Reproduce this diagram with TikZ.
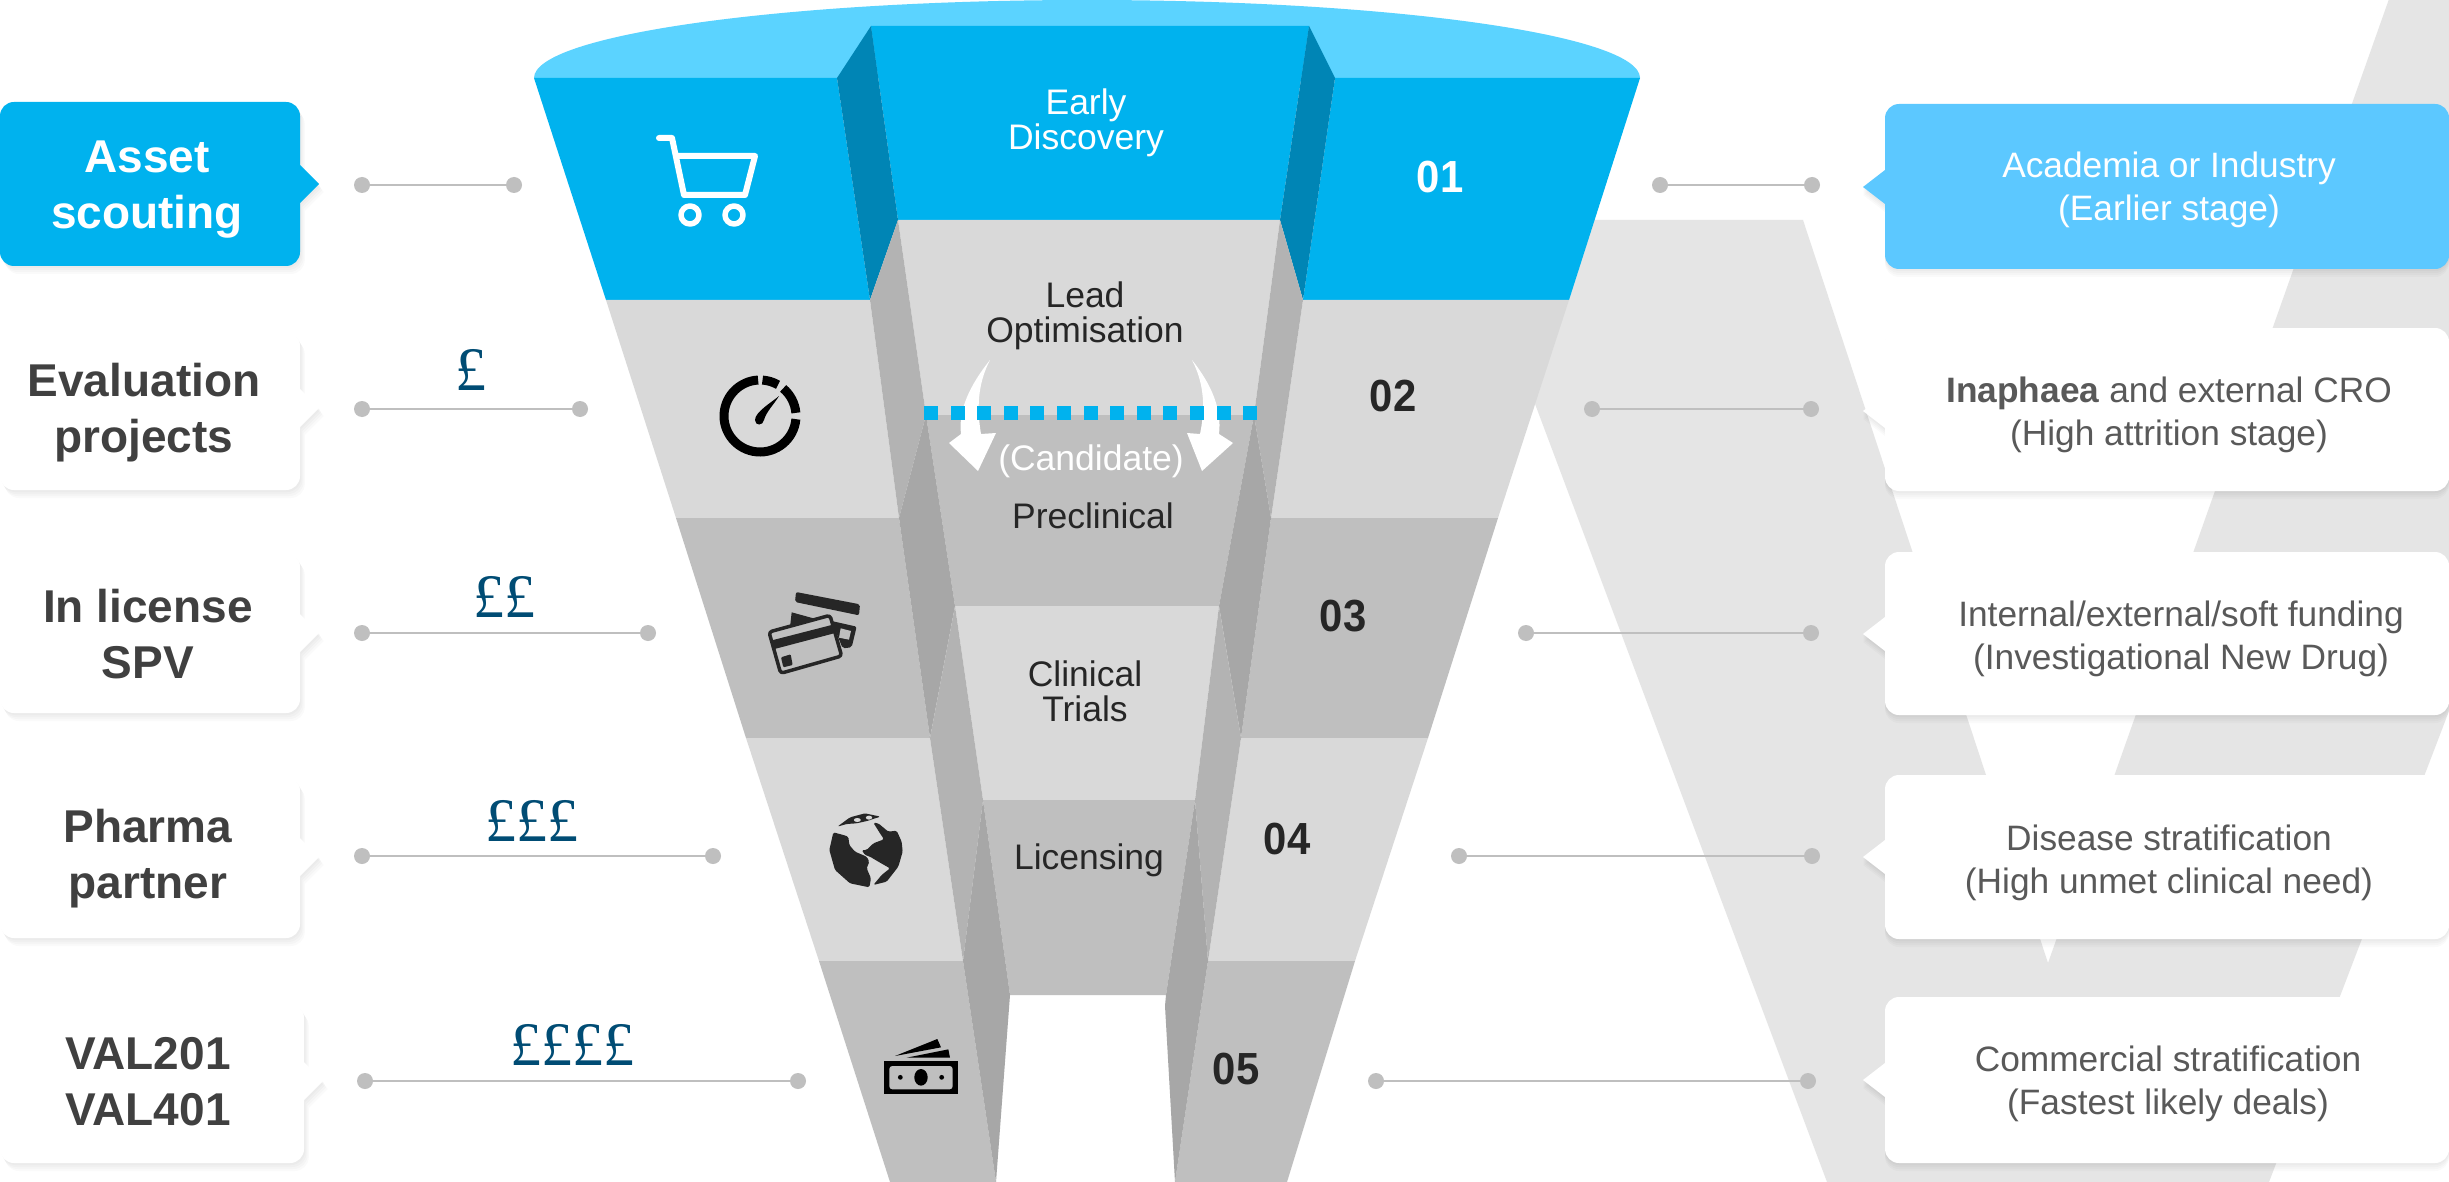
\documentclass[tikz,border=0pt]{standalone}
\usepackage{fontspec}
\setmainfont{Liberation Sans}
\newfontfamily\poundfont{Liberation Serif}
\newfontfamily\numfont{Liberation Sans}[FakeStretch=0.93]
\usetikzlibrary{calc}
\definecolor{fblue}{HTML}{00B2EE}
\definecolor{fblued}{HTML}{0085B5}
\definecolor{ftop}{HTML}{5BD3FF}
\definecolor{rblue}{HTML}{5CC8FF}
\definecolor{glight}{HTML}{D9D9D9}
\definecolor{gdark}{HTML}{BFBFBF}
\definecolor{sidea}{HTML}{B3B3B3}
\definecolor{sideb}{HTML}{A7A7A7}
\definecolor{bgv}{HTML}{E5E5E5}
\definecolor{ink}{HTML}{262626}
\definecolor{ltxt}{HTML}{404040}
\definecolor{rtxt}{HTML}{595959}
\definecolor{pound}{HTML}{004C74}
\definecolor{dotc}{HTML}{BFBFBF}
\tikzset{
  dotn/.style={circle,fill=dotc,minimum size=16pt,inner sep=0pt},
  conn/.style={draw=dotc,line width=2.5pt},
  ltext/.style={font=\fontsize{46}{56}\selectfont\bfseries,text=ltxt,align=center,inner sep=0pt},
  rtext/.style={font=\fontsize{35.3}{43}\selectfont,text=rtxt,align=center,inner sep=0pt},
  ctext/.style={font=\fontsize{35.5}{35}\selectfont,text=ink,align=center,inner sep=0pt},
  numtext/.style={font=\numfont\fontsize{45}{45}\selectfont\bfseries,text=ink,inner sep=0pt},
  poundtext/.style={font=\fontsize{62}{62}\poundfont\selectfont,text=pound,inner sep=0pt}
}
% #1 right edge, #2 top, #3 bottom, #4 pointer centre y, #5 tip x
\newcommand{\LeftCalloutPath}[5]{[rounded corners=14pt] (0,#2) -- (#1,#2) [sharp corners] -- (#1,#4-19) -- (#5,#4) -- (#1,#4+19) [rounded corners=14pt] -- (#1,#3) -- (0,#3) -- cycle}
\newcommand{\RightCalloutPath}[3]{[rounded corners=14pt] (2449,#1) -- (1885,#1) [sharp corners] -- (1885,#3-17) -- (1863,#3) -- (1885,#3+17) [rounded corners=14pt] -- (1885,#2) -- (2449,#2) -- cycle}
\newcommand{\LeftCallout}[6]{%
  \foreach \o in {2,4,6,8} {\fill[black,opacity=.018,shift={(\o*.6,\o)}] \LeftCalloutPath{#1}{#2}{#3}{#4}{#5};}
  \fill[#6] \LeftCalloutPath{#1}{#2}{#3}{#4}{#5};}
\newcommand{\RightCallout}[4]{%
  \foreach \o in {2,4,6,8} {\fill[black,opacity=.018,shift={(0,\o)}] \RightCalloutPath{#1}{#2}{#3};}
  \fill[#4] \RightCalloutPath{#1}{#2}{#3};}
\begin{document}
\begin{tikzpicture}[x=1pt,y=-1pt]
\clip (0,0) rectangle (2449,1182);
\useasboundingbox (0,0) rectangle (2449,1182);
\fill[white] (0,0) rectangle (2449,1182);
% background V
\fill[bgv] (1466,220) -- (1803,220) -- (2048,963) -- (2389,-1) -- (2449,-1) -- (2449,711) -- (2269,1182) -- (1827,1182) -- cycle;
% funnel top
\fill[ftop] (534,78) .. controls (534,35) and (783,0) .. (1087,0) .. controls (1391,0) and (1640,35) .. (1640,78) -- cycle;
% left front faces
\fill[fblue] (534,78) -- (837,78) -- (870,300) -- (606,300) -- cycle;
\fill[glight] (606,300) -- (870,300) -- (899,518) -- (676,518) -- cycle;
\fill[gdark] (676,518) -- (899,518) -- (930,738) -- (746,738) -- cycle;
\fill[glight] (746,738) -- (930,738) -- (963,961) -- (819,961) -- cycle;
\fill[gdark] (819,961) -- (963,961) -- (996,1182) -- (890,1182) -- cycle;
% right front faces
\fill[fblue] (1335,78) -- (1640,78) -- (1569,300) -- (1303,300) -- cycle;
\fill[glight] (1303,300) -- (1569,300) -- (1498,518) -- (1271,518) -- cycle;
\fill[gdark] (1271,518) -- (1498,518) -- (1428,738) -- (1241,738) -- cycle;
\fill[glight] (1241,738) -- (1428,738) -- (1355,961) -- (1208,961) -- cycle;
\fill[gdark] (1208,961) -- (1355,961) -- (1287,1182) -- (1175,1182) -- cycle;
% centre panels
\fill[fblue] (871,26) -- (1309,26) -- (1280,220) -- (898,220) -- cycle;
\fill[glight] (898,220) -- (1280,220) -- (1254,415) -- (926,415) -- cycle;
\fill[gdark] (926,415) -- (1254,415) -- (1219,606) -- (955,606) -- cycle;
\fill[glight] (955,606) -- (1219,606) -- (1195,800) -- (983,800) -- cycle;
\fill[gdark] (983,800) -- (1195,800) -- (1166,995) -- (1010,995) -- cycle;
% side faces
\fill[fblued] (837,78) -- (871,26) -- (898,220) -- (870,300) -- cycle;
\fill[sidea] (870,300) -- (898,220) -- (926,415) -- (899,518) -- cycle;
\fill[sideb] (899,518) -- (926,415) -- (955,606) -- (930,738) -- cycle;
\fill[sidea] (930,738) -- (955,606) -- (983,800) -- (963,961) -- cycle;
\fill[sideb] (963,961) -- (983,800) -- (1010,995) -- (996,1182) -- cycle;
\fill[fblued] (1335,78) -- (1309,26) -- (1280,220) -- (1303,300) -- cycle;
\fill[sidea] (1303,300) -- (1280,220) -- (1254,415) -- (1271,518) -- cycle;
\fill[sideb] (1271,518) -- (1254,415) -- (1219,606) -- (1241,738) -- cycle;
\fill[sidea] (1241,738) -- (1219,606) -- (1195,800) -- (1208,961) -- cycle;
\fill[sideb] (1208,961) -- (1195,800) -- (1166,995) -- (1165,1006) -- (1175,1182) -- cycle;
% white arrows
\fill[white] (990,360) .. controls (970,385) and (958,410) .. (961,434) -- (949,443) -- (978,471) -- (996,433) -- (981,434) .. controls (977,410) and (977,385) .. (990,360) -- cycle;
\fill[white] (1192,360) .. controls (1205,385) and (1205,410) .. (1200,434) -- (1187,433) -- (1202,471) -- (1233,443) -- (1219,434) .. controls (1222,410) and (1212,385) .. (1192,360) -- cycle;
% dotted divider
\foreach \i in {0,...,12} {\fill[fblue] (924+\i*26.6,406) rectangle ++(14,14);}
% centre labels
\node[ctext,text=white] (early) at (1086,123) {Early\\Discovery};
\node[ctext] (lead) at (1085,316) {Lead\\Optimisation};
\node[ctext,text=white] (cand) at (1091,461) {(Candidate)};
\node[ctext] (precl) at (1093,516) {Preclinical};
\node[ctext] (clin) at (1085,691) {Clinical\\Trials};
\node[ctext] (lic) at (1089,860) {Licensing};
% numbers
\node[numtext,text=white] (n1) at (1440,177) {01};
\node[numtext] (n2) at (1393,396) {02};
\node[numtext] (n3) at (1343,616) {03};
\node[numtext] (n4) at (1287,839) {04};
\node[numtext] (n5) at (1236,1069) {05};
% cart icon
\begin{scope}[white,line width=6pt,line join=round,line cap=round]
  \draw (659,138) -- (672,138) -- (684,195) -- (745,195) -- (755,156) -- (676,156);
  \draw[line width=5.5pt] (690,215) circle[radius=9pt];
  \draw[line width=5.5pt] (734,215) circle[radius=9pt];
\end{scope}
% gauge icon
\begin{scope}[black,line width=9pt]
  \draw (760,416) ++(-5:36pt) arc[start angle=-5,end angle=-267,radius=36pt];
  \draw (760,416) ++(5:36pt) arc[start angle=5,end angle=50,radius=36pt];
  \draw (760,416) ++(60:36pt) arc[start angle=60,end angle=86,radius=36pt];
\end{scope}
\fill[black] (779,396) .. controls (772,402) and (755,412) .. (755,420) .. controls (755,426) and (763,426) .. (764,420) .. controls (766,412) and (775,403) .. (779,396) -- cycle;
% cards icon
\begin{scope}[shift={(750,570)},x=.3333pt,y=-.3333pt]
  \fill[ink,rounded corners=2pt] (138,66) -- (330,103) -- (327,136) -- (135,96) -- cycle;
  \fill[ink] (125,127) -- (245,160) -- (118,190) -- cycle;
  \fill[ink,rounded corners=2pt] (245,153) -- (320,170) -- (305,232) -- (278,235) -- cycle;
  \fill[gdark] (272,175) -- (303,183) -- (297,209) -- (267,203) -- cycle;
  \fill[gdark] (55,185) -- (240,135) -- (278,258) -- (92,312) -- cycle;
  \draw[ink,line width=3.5pt,rounded corners=3pt,line join=round] (57,186) -- (240,136) -- (275,258) -- (92,310) -- cycle;
  \fill[ink] (62,212) -- (245,165) -- (252,190) -- (70,238) -- cycle;
  \fill[ink,rounded corners=1pt] (93,262) -- (122,253) -- (128,285) -- (100,292) -- cycle;
\end{scope}
% globe icon
\begin{scope}[shift={(810,800)},x=.3333pt,y=-.3333pt]
  \fill[ink,rounded corners=1.5pt] (82,80) -- (120,52) -- (165,40) -- (212,50) -- (195,55) -- (175,62) -- (140,70) -- (110,72) -- cycle;
  \fill[glight] (142,60) ellipse[x radius=3.5pt,y radius=2pt];
  \fill[glight] (177,53) ellipse[x radius=3.2pt,y radius=2pt];
  \fill[ink,rounded corners=1.5pt] (70,97) -- (100,105) -- (115,110) -- (118,135) -- (135,155) -- (170,170) -- (178,185) -- (170,205) -- (183,235) -- (178,262) -- (120,250) -- (75,210) -- (58,150) -- cycle;
  \fill[ink,rounded corners=1.5pt] (190,255) -- (215,225) -- (240,205) -- (205,185) -- (180,170) -- (165,165) -- (155,150) -- (170,150) -- (190,130) -- (222,118) -- (210,100) -- (190,68) -- (205,70) -- (235,95) -- (260,92) -- (275,125) -- (278,155) -- (265,200) -- (230,245) -- cycle;
\end{scope}
% cash icon
\begin{scope}[shift={(860,1020)},x=.3333pt,y=-.3333pt]
  \fill[black] (105,108) -- (232,57) -- (243,82) -- cycle;
  \fill[black] (140,113) -- (265,88) -- (270,113) -- cycle;
  \fill[black] (73,122) rectangle (293,222);
  \fill[gdark,rounded corners=3pt] (88,138) rectangle (278,208);
  \fill[black] (183,172) ellipse[x radius=6.7pt,y radius=8.3pt];
  \fill[black] (121,172) circle[radius=2.4pt];
  \fill[black] (245,172) circle[radius=2.4pt];
\end{scope}
% left callouts
\LeftCallout{300}{102}{266}{184}{319}{fblue}
\LeftCallout{300}{332}{490}{408}{319}{white}
\LeftCallout{300}{553}{713}{633}{319}{white}
\LeftCallout{300}{777}{938}{857}{319}{white}
\LeftCallout{304}{1004}{1163}{1081}{323}{white}
\node[ltext,text=white] (l1) at (147,189.5) {Asset\\scouting};
\node[ltext] (l2) at (144,412.5) {Evaluation\\projects};
\node[ltext] (l3) at (148,634) {In license\\SPV};
\node[ltext] (l4) at (148,859) {Pharma\\partner};
\node[ltext] (l5) at (148,1082) {VAL201\\VAL401};
% right callouts
\RightCallout{104}{269}{187}{rblue}
\RightCallout{328}{491}{411}{white}
\RightCallout{552}{715}{634}{white}
\RightCallout{775}{939}{857}{white}
\RightCallout{997}{1163}{1080}{white}
\node[rtext,text=white] (r1) at (2169,190) {Academia or Industry\\(Earlier stage)};
\node[rtext] (r2) at (2169,414.5) {\textbf{Inaphaea} and external CRO\\(High attrition stage)};
\node[rtext] (r3) at (2181,638.5) {Internal/external/soft funding\\(Investigational New Drug)};
\node[rtext] (r4) at (2169,862.5) {Disease stratification\\(High unmet clinical need)};
\node[rtext] (r5) at (2168,1084) {Commercial stratification\\(Fastest likely deals)};
% left connectors
\node[dotn] (la1) at (362,185) {}; \node[dotn] (lb1) at (514,185) {};
\node[dotn] (la2) at (362,409) {}; \node[dotn] (lb2) at (580,409) {};
\node[dotn] (la3) at (362,633) {}; \node[dotn] (lb3) at (648,633) {};
\node[dotn] (la4) at (362,856) {}; \node[dotn] (lb4) at (713,856) {};
\node[dotn] (la5) at (365,1081) {}; \node[dotn] (lb5) at (798,1081) {};
\foreach \i in {1,...,5} {\draw[conn] (la\i) -- (lb\i);}
% right connectors
\node[dotn] (ra1) at (1660,185) {}; \node[dotn] (rb1) at (1812,185) {};
\node[dotn] (ra2) at (1592,409) {}; \node[dotn] (rb2) at (1811,409) {};
\node[dotn] (ra3) at (1526,633) {}; \node[dotn] (rb3) at (1811,633) {};
\node[dotn] (ra4) at (1459,856) {}; \node[dotn] (rb4) at (1812,856) {};
\node[dotn] (ra5) at (1376,1081) {}; \node[dotn] (rb5) at (1808,1081) {};
\foreach \i in {1,...,5} {\draw[conn] (ra\i) -- (rb\i);}
% pound labels
\node[poundtext] (p2) at (471,370) {£};
\node[poundtext] (p3) at (504,597) {££};
\node[poundtext] (p4) at (532,821) {£££};
\node[poundtext] (p5) at (572,1045) {££££};
\end{tikzpicture}
\end{document}
